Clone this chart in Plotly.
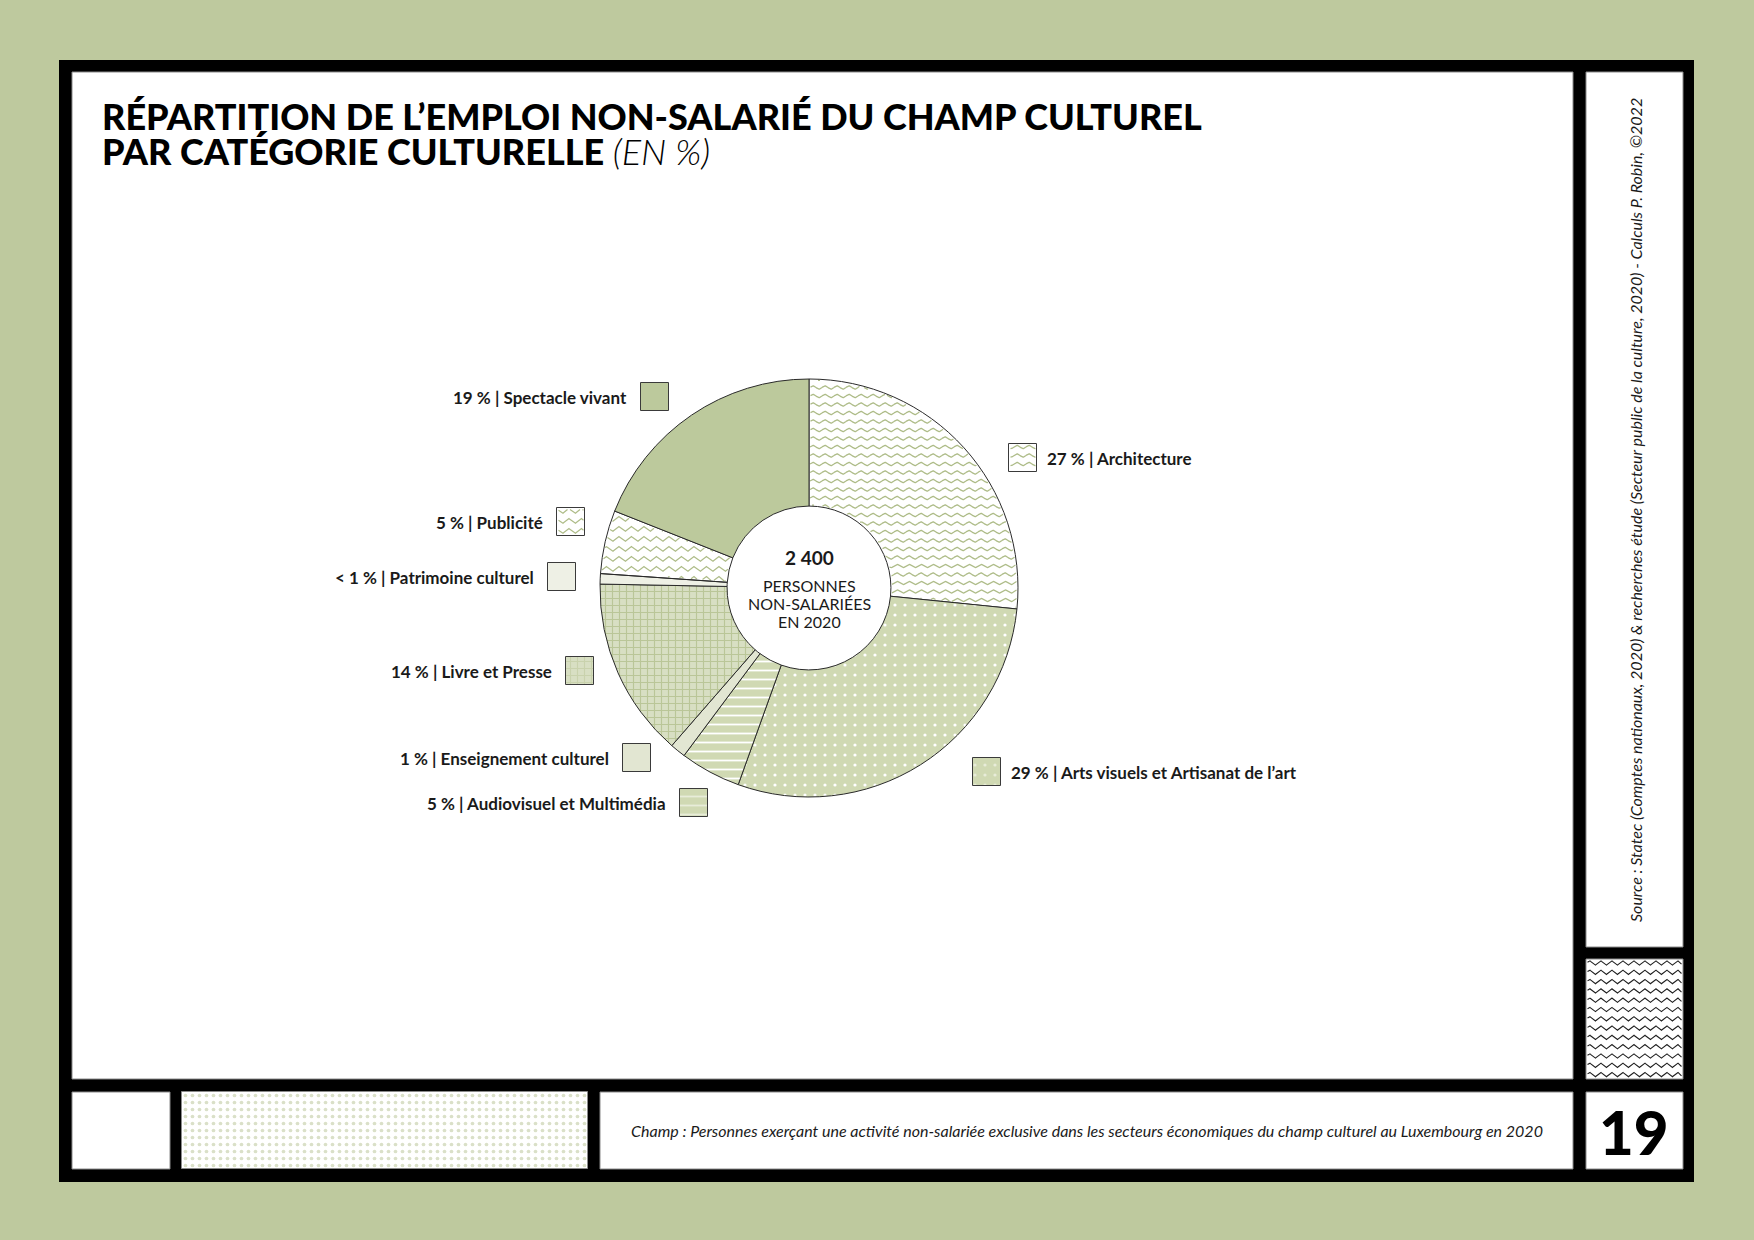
import numpy as np
import plotly.graph_objects as go

W, H = 1754, 1240

# ---------------- data ----------------
categories = ["Architecture", "Arts visuels et Artisanat de l’art", "Audiovisuel et Multimédia",
              "Enseignement culturel", "Livre et Presse", "Patrimoine culturel", "Publicité",
              "Spectacle vivant"]
shares = [26.6, 28.9, 4.7, 1.2, 13.9, 0.8, 4.9, 19.0]
total_people = "2 400"
center_lines = ["PERSONNES", "NON-SALARIÉES", "EN 2020"]

title_line1 = "RÉPARTITION DE L’EMPLOI NON-SALARIÉ DU CHAMP CULTUREL"
title_line2 = "PAR CATÉGORIE CULTURELLE"
title_unit = "(EN %)"
source_text = ("Source : Statec (Comptes nationaux, 2020) & recherches étude (Secteur public de la culture, 2020)"
               " - Calculs P. Robin, ©2022")
champ_text = ("Champ : Personnes exerçant une activité non-salariée exclusive dans les secteurs économiques "
              "du champ culturel au Luxembourg en 2020")
page_number = "19"

# ---------------- styles ----------------
BG = "#BEC99E"
GREEN_LINE = "#AEBC88"
slice_bg = ["rgba(0,0,0,0)", "#D0D9B3", "#D0D9B3", "#E2E6D2", "#D8DFC3", "#EEF0E5", "rgba(0,0,0,0)", "#BCC99C"]
slice_shape = ["", ".", "-", "", "+", "", "", ""]
slice_fg = ["#ffffff", "#ffffff", "#ffffff", "#ffffff", "#BAC698", "#ffffff", "#ffffff", "#ffffff"]
slice_size = [8, 10, 9, 8, 7, 8, 8, 8]
slice_solid = [0.1, 0.08, 0.2, 0.1, 0.3, 0.1, 0.1, 0.1]
slice_wave = ["sine", None, None, None, None, None, "zigzag", None]

# legend box top-left positions (px) and label side
box_pos = [(1009, 444), (973, 758), (680, 789), (623, 744), (566, 657), (548, 563), (557, 508), (641, 383)]
box_side = ["right", "right", "left", "left", "left", "left", "left", "left"]
BOX = 28

# pie geometry (px)
CX, CY, R = 809, 588, 209
HOLE = 0.392

TXT = "#1a1a1a"
FONT = "Lato"


def wave_lines(x0, x1, y0, y1, spacing, period, amp, kind, inside):
    xs, ys = [], []
    xg = np.arange(x0, x1 + 0.5, 0.5)
    for yc in np.arange(y0, y1 + spacing, spacing):
        if kind == "sine":
            yv = yc + amp * np.sin(2 * np.pi * xg / period)
        else:
            ph = (xg / period) % 1.0
            yv = yc + amp * (2 * np.abs(2 * ph - 1) - 1)
        m = inside(xg, yv)
        for a, b, ok in zip(xg, yv, m):
            if ok:
                xs.append(float(a)); ys.append(float(b))
            else:
                if xs and xs[-1] is not None:
                    xs.append(None); ys.append(None)
        xs.append(None); ys.append(None)
    return xs, ys


def wave_params(kind):
    if kind == "sine":
        return dict(spacing=8.5, period=12, amp=1.6)
    return dict(spacing=10, period=12.5, amp=2.6)


fig = go.Figure()

# ---------------- frame (shapes) ----------------
shapes = []
def rect(x0, y0, x1, y1, fill, line=None):
    shapes.append(dict(type="rect", xref="x", yref="y", x0=x0, y0=y0, x1=x1, y1=y1,
                       fillcolor=fill, layer="below",
                       line=dict(width=1 if line else 0, color=line or fill)))

rect(59, 60, 1694, 1182, "#000000")
rect(72, 72, 1573, 1079, "#ffffff", "#8a8a8a")
rect(1586, 72, 1683, 947, "#ffffff", "#8a8a8a")
rect(1586, 959, 1683, 1079, "#ffffff", "#8a8a8a")
rect(1586, 1092, 1683, 1169, "#ffffff", "#8a8a8a")
rect(72, 1092, 170, 1169, "#ffffff", "#8a8a8a")
rect(600, 1092, 1573, 1169, "#ffffff", "#8a8a8a")

# dotted bottom panel
fig.add_trace(go.Bar(x=[(182 + 588) / 2], width=[588 - 182], base=[1092], y=[1169 - 1092],
                     marker=dict(color="#ffffff", line=dict(color="#8a8a8a", width=1),
                                 pattern=dict(shape=".", fgcolor="#B5C292", bgcolor="#ffffff",
                                              size=7, solidity=0.22)),
                     hoverinfo="skip", showlegend=False))

# legend boxes
for i, cat in enumerate(categories):
    bx, by = box_pos[i]
    bg = slice_bg[i] if not slice_bg[i].startswith("rgba") else "#ffffff"
    pat = dict(shape=slice_shape[i], fgcolor=slice_fg[i], bgcolor=bg,
               size=slice_size[i], solidity=slice_solid[i])
    fig.add_trace(go.Bar(x=[bx + BOX / 2], width=[BOX], base=[by], y=[BOX],
                         marker=dict(color=bg, line=dict(color="#3a3a3a", width=1), pattern=pat),
                         hoverinfo="skip", showlegend=False))

# ---------------- wavy patterns ----------------
tot = sum(shares)
starts = np.cumsum([0] + shares[:-1]) / tot * 360
ends = np.cumsum(shares) / tot * 360
r_in = R * HOLE

for i, kind in enumerate(slice_wave):
    if kind is None:
        continue
    a0, a1 = starts[i], ends[i]
    def inside(x, y, a0=a0, a1=a1):
        dx, dy = x - CX, y - CY
        rr = np.hypot(dx, dy)
        ang = np.degrees(np.arctan2(dx, -dy)) % 360
        return (rr > r_in + 1) & (rr < R - 1) & (ang > a0 + 0.4) & (ang < a1 - 0.4)
    p = wave_params(kind)
    xs, ys = wave_lines(CX - R, CX + R, CY - R, CY + R, p["spacing"], p["period"], p["amp"], kind, inside)
    fig.add_trace(go.Scatter(x=xs, y=ys, mode="lines", line=dict(color=GREEN_LINE, width=1.2),
                             hoverinfo="skip", showlegend=False))
    bx, by = box_pos[i]
    def inbox(x, y, bx=bx, by=by):
        return (x > bx + 1.2) & (x < bx + BOX - 1.2) & (y > by + 1.2) & (y < by + BOX - 1.2)
    xs, ys = wave_lines(bx, bx + BOX, by + 3, by + BOX, p["spacing"], p["period"], p["amp"], kind, inbox)
    fig.add_trace(go.Scatter(x=xs, y=ys, mode="lines", line=dict(color=GREEN_LINE, width=1.2),
                             hoverinfo="skip", showlegend=False))

# zigzag panel on the right
def inzz(x, y):
    return (x > 1587) & (x < 1682) & (y > 960) & (y < 1078)
xs, ys = wave_lines(1586, 1683, 963, 1080, 9.3, 11, 2.6, "zigzag", inzz)
fig.add_trace(go.Scatter(x=xs, y=ys, mode="lines", line=dict(color="#1e1e1e", width=1.1),
                         hoverinfo="skip", showlegend=False))

# ---------------- pie ----------------
fig.add_trace(go.Pie(
    labels=categories, values=shares, sort=False, direction="clockwise", rotation=0,
    hole=HOLE, textinfo="none", hoverinfo="label+percent", showlegend=False,
    domain=dict(x=[(CX - R) / W, (CX + R) / W], y=[1 - (CY + R) / H, 1 - (CY - R) / H]),
    marker=dict(colors=slice_bg, line=dict(color="#2a2a2a", width=1),
                pattern=dict(shape=slice_shape, fgcolor=slice_fg,
                             bgcolor=[c if not c.startswith("rgba") else "rgba(0,0,0,0)" for c in slice_bg],
                             size=slice_size, solidity=slice_solid)),
))

# ---------------- texts ----------------
ann = []
def label_text(v, name):
    pct = "< 1" if v < 1 else f"{round(v):d}"
    return f"{pct} % | {name}"

for i, cat in enumerate(categories):
    bx, by = box_pos[i]
    if box_side[i] == "left":
        ann.append(dict(x=bx - 12, y=by + BOX / 2, xanchor="right", text=label_text(shares[i], cat)))
    else:
        ann.append(dict(x=bx + BOX + 8, y=by + BOX / 2, xanchor="left", text=label_text(shares[i], cat)))
for a in ann:
    a.update(xref="x", yref="y", yanchor="middle", showarrow=False,
             font=dict(family=FONT, size=17, color=TXT, weight=700))

ann.append(dict(x=CX, y=557, xref="x", yref="y", text=total_people, showarrow=False,
                xanchor="center", yanchor="middle", font=dict(family=FONT, size=19, color=TXT, weight=700)))
for k, line in enumerate(center_lines):
    ann.append(dict(x=CX, y=585 + 18 * k, xref="x", yref="y", text=line, showarrow=False,
                    xanchor="center", yanchor="middle", font=dict(family=FONT, size=16, color=TXT, weight=400)))

TITLE_FONT = "Lato"
ann.append(dict(x=100, y=116, xref="x", yref="y", text=title_line1, showarrow=False,
                xanchor="left", yanchor="middle", font=dict(family=TITLE_FONT, size=36, color="#000", weight=900)))
ann.append(dict(x=100, y=151, xref="x", yref="y",
                text=title_line2 + " <span style='font-weight:300;font-style:italic'>" + title_unit + "</span>",
                showarrow=False, xanchor="left", yanchor="middle",
                font=dict(family=TITLE_FONT, size=36, color="#000", weight=900)))

ann.append(dict(x=1635, y=510, xref="x", yref="y", text=source_text, textangle=-90, showarrow=False,
                xanchor="center", yanchor="middle", font=dict(family=FONT, size=16, color=TXT, style="italic")))
ann.append(dict(x=1087, y=1130, xref="x", yref="y", text=champ_text, showarrow=False,
                xanchor="center", yanchor="middle", font=dict(family=FONT, size=16, color=TXT, style="italic")))
ann.append(dict(x=1634, y=1132, xref="x", yref="y", text=page_number, showarrow=False,
                xanchor="center", yanchor="middle", font=dict(family=FONT, size=60, color="#000", weight=900)))

fig.update_layout(
    width=W, height=H, margin=dict(l=0, r=0, t=0, b=0),
    paper_bgcolor=BG, plot_bgcolor="rgba(0,0,0,0)",
    barmode="overlay", bargap=0,
    xaxis=dict(range=[0, W], visible=False, fixedrange=True, domain=[0, 1]),
    yaxis=dict(range=[H, 0], visible=False, fixedrange=True, domain=[0, 1]),
    shapes=shapes, annotations=ann, showlegend=False,
)

fig.write_html("out.html")
